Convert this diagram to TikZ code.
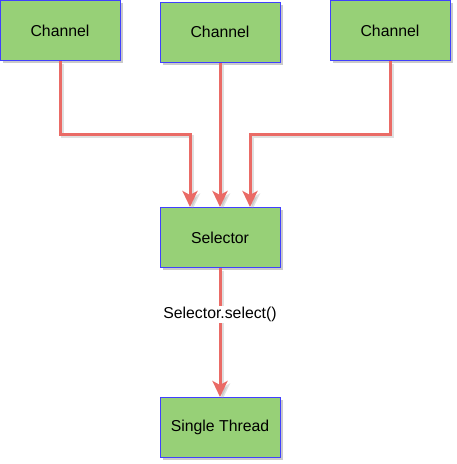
\documentclass[tikz,border=0pt]{standalone}
\usepackage{fontspec}
\setmainfont{Liberation Sans}
\usetikzlibrary{arrows.meta,shadows,calc}
\definecolor{boxfill}{HTML}{97D077}
\definecolor{boxline}{HTML}{4040FF}
\definecolor{edgecol}{HTML}{EA6B66}
\tikzset{
  box/.style={draw=boxline, line width=1pt, fill=boxfill, minimum width=120pt, minimum height=60pt,
    inner sep=0pt, font=\fontsize{15.8}{18}\selectfont,
    drop shadow={shadow xshift=2.5pt, shadow yshift=-2.5pt, opacity=0.35, fill=black!60}},
  edge/.style={draw=edgecol, line width=3pt, -{Stealth[length=16pt, width=15pt, inset=4pt]},
    preaction={draw=black!40, opacity=0.3, line width=3pt, transform canvas={shift={(2.5pt,-2.5pt)}}}},
  elabel/.style={fill=white, inner sep=1pt, font=\fontsize{15.8}{18}\selectfont}
}
\begin{document}
\begin{tikzpicture}[x=1pt,y=-1pt]
\useasboundingbox (0,0) rectangle (457,464);
\node[box] (c1) at (60,30.5) {Channel};
\node[box] (c2) at (220,32) {Channel};
\node[box] (c3) at (390,30.5) {Channel};
\node[box] (sel) at (220,237.5) {Selector};
\node[box] (st) at (220,427.5) {\raisebox{-1pt}{Single Thread}};
\draw[edge] (c1.south) |- (190,134) -- (190,237.5 |- sel.north);
\draw[edge] (c2.south) -- (sel.north);
\draw[edge] (c3.south) |- (250,134) -- (250,237.5 |- sel.north);
\draw[edge] (sel.south) -- node[elabel, pos=0.36] (lab) {Selector.select()} (st.north);
\end{tikzpicture}
\end{document}
